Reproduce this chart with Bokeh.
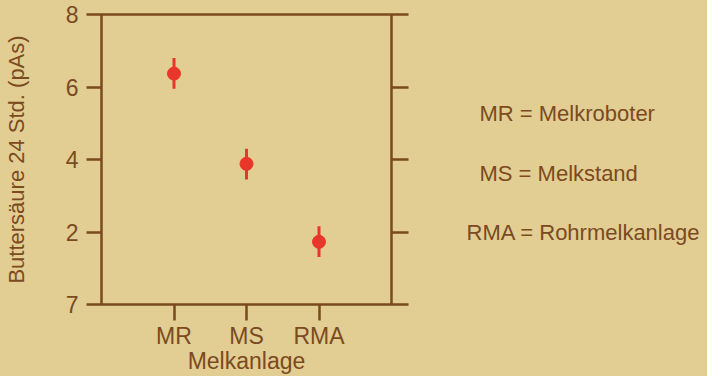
import re
from bokeh.plotting import figure
from bokeh.layouts import row
from bokeh.models import FactorRange, Range1d, LinearAxis, FixedTicker, Label
from bokeh.embed import file_html
from bokeh.resources import INLINE

# ---- data ----
categories = ["MR", "MS", "RMA"]
means = [6.37, 3.88, 1.73]
lower = [5.95, 3.45, 1.31]
upper = [6.80, 4.30, 2.16]
y_ticks = [0, 2, 4, 6, 8]
y_tick_labels = ["7", "2", "4", "6", "8"]
legend_lines = ["MR = Melkroboter", "MS = Melkstand", "RMA = Rohrmelkanlage"]

BG = "#E2CD92"
BROWN = "#7B4A1F"
RED = "#E8362A"
FONT = "Liberation Sans"

p = figure(width=411, height=376, output_backend="svg", toolbar_location=None,
           x_range=FactorRange(factors=categories, range_padding=1/3, range_padding_units="percent"),
           y_range=Range1d(0, 8),
           min_border_left=98, min_border_right=20, min_border_top=14, min_border_bottom=70)
p.background_fill_color = BG
p.border_fill_color = BG
p.outline_line_color = BROWN
p.outline_line_width = 2.5
p.outline_line_alpha = 1.0
p.grid.visible = False
p.styles = {"background-color": BG}

# bottom axis
xa = p.xaxis[0]
xa.axis_label = "Melkanlage"
xa.axis_line_color = None
xa.major_tick_line_color = BROWN
xa.major_tick_line_width = 2.5
xa.major_tick_out = 16
xa.major_tick_in = 0
xa.minor_tick_line_color = None
xa.major_label_text_font = FONT
xa.major_label_text_font_size = "23px"
xa.major_label_text_color = BROWN
xa.major_label_standoff = 2
xa.axis_label_text_font = FONT
xa.axis_label_text_font_size = "23px"
xa.axis_label_text_font_style = "normal"
xa.axis_label_text_color = BROWN
xa.axis_label_standoff = -4

# left axis
ya = p.yaxis[0]
ya.ticker = FixedTicker(ticks=y_ticks)
ya.major_label_overrides = {t: l for t, l in zip(y_ticks, y_tick_labels)}
ya.axis_label = "Buttersäure 24 Std. (pAs)"
ya.axis_line_color = None
ya.major_tick_line_color = BROWN
ya.major_tick_line_width = 2.5
ya.major_tick_out = 15
ya.major_tick_in = 0
ya.minor_tick_line_color = None
ya.major_label_text_font = FONT
ya.major_label_text_font_size = "23px"
ya.major_label_text_color = BROWN
ya.major_label_standoff = 8
ya.axis_label_text_font = FONT
ya.axis_label_text_font_size = "22px"
ya.axis_label_text_font_style = "normal"
ya.axis_label_text_color = BROWN
ya.axis_label_standoff = 34

# right axis (ticks only)
ra = LinearAxis(ticker=FixedTicker(ticks=y_ticks))
ra.axis_line_color = None
ra.major_tick_line_color = BROWN
ra.major_tick_line_width = 2.5
ra.major_tick_out = 17
ra.major_tick_in = 0
ra.minor_tick_line_color = None
ra.major_label_text_font_size = "0px"
ra.major_label_text_alpha = 0
p.add_layout(ra, "right")

# data
p.segment(x0=categories, y0=lower, x1=categories, y1=upper, line_color=RED, line_width=3)
p.scatter(x=categories, y=means, size=13, fill_color=RED, line_color=RED)

# legend panel (separate figure so the text is not clipped by the plot frame)
q = figure(width=296, height=376, output_backend="svg", toolbar_location=None,
           x_range=Range1d(0, 1), y_range=Range1d(0, 1), min_border=0)
q.background_fill_color = BG
q.border_fill_color = BG
q.outline_line_color = BG
q.outline_line_width = 3
q.axis.visible = False
q.grid.visible = False
q.styles = {"background-color": BG}
leg_x = [68, 68, 55]
leg_y = [191, 131, 72]
for t, lx, ly in zip(legend_lines, leg_x, leg_y):
    q.add_layout(Label(x=lx, y=ly, x_units="screen", y_units="screen", text=t,
                       text_font=FONT, text_font_size="22px", text_color=BROWN,
                       text_baseline="middle", text_align="left"))

layout = row(p, q)
layout.styles = {"background-color": BG}
html = file_html(layout, INLINE)
html = re.sub(r"<body>", '<body style="background-color:%s;">' % BG, html, count=1)
open("out.html", "w").write(html)
